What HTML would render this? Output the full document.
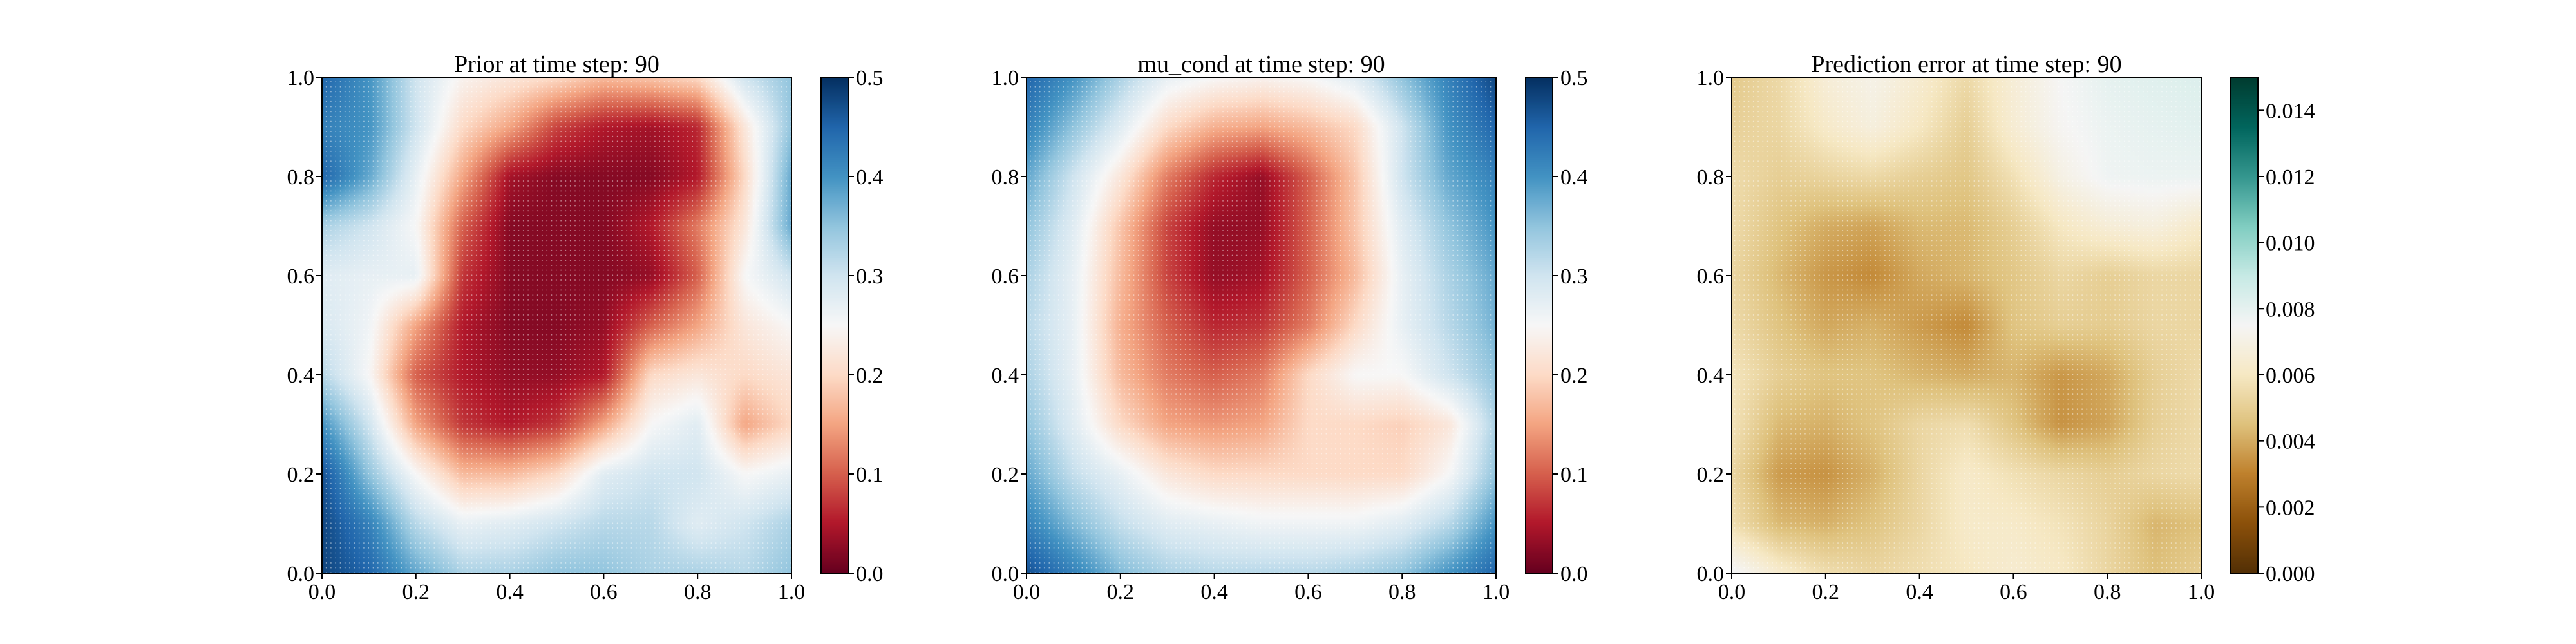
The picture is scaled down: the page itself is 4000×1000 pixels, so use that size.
<!DOCTYPE html>
<html><head><meta charset="utf-8">
<style>
html,body{margin:0;padding:0;background:#fff;}
#root{position:relative;width:4000px;height:1000px;overflow:hidden;font-family:"Liberation Serif",serif;}
canvas{position:absolute;image-rendering:auto;}
svg{position:absolute;left:0;top:0;}
</style></head>
<body>
<div id="root"></div>
<script>
// ---- data (11x11 grids, rows from y=1.0 down to y=0.0, cols x=0..1) ----
const xTicks = [0,0.2,0.4,0.6,0.8,1.0];
const yTicks = [0,0.2,0.4,0.6,0.8,1.0];
const titles = ["Prior at time step: 90","mu_cond at time step: 90","Prediction error at time step: 90"];
const cbTicks1 = [0,0.1,0.2,0.3,0.4,0.5];
const cbTicks3 = [0,0.002,0.004,0.006,0.008,0.010,0.012,0.014];
const priorGrid = [
[0.45,0.4,0.3,0.24,0.22,0.2,0.17,0.18,0.2,0.3,0.35],
[0.42,0.4,0.3,0.2,0.15,0.08,0.05,0.04,0.06,0.22,0.35],
[0.45,0.38,0.27,0.15,0.04,0.02,0.02,0.02,0.05,0.2,0.38],
[0.33,0.3,0.25,0.1,0.02,0.02,0.02,0.05,0.12,0.22,0.38],
[0.28,0.27,0.27,0.07,0.02,0.02,0.02,0.03,0.1,0.25,0.3],
[0.29,0.26,0.15,0.05,0.02,0.02,0.03,0.1,0.15,0.22,0.25],
[0.32,0.25,0.1,0.05,0.03,0.03,0.05,0.2,0.22,0.2,0.22],
[0.4,0.3,0.15,0.07,0.05,0.07,0.15,0.25,0.28,0.15,0.2],
[0.47,0.35,0.25,0.17,0.17,0.2,0.28,0.3,0.3,0.25,0.27],
[0.48,0.42,0.32,0.27,0.28,0.3,0.32,0.32,0.28,0.3,0.33],
[0.48,0.45,0.38,0.33,0.33,0.35,0.35,0.33,0.33,0.32,0.35]];
const muGrid = [
[0.45,0.4,0.33,0.27,0.25,0.24,0.25,0.28,0.35,0.42,0.48],
[0.42,0.35,0.28,0.2,0.16,0.15,0.17,0.2,0.3,0.4,0.45],
[0.38,0.3,0.22,0.12,0.06,0.03,0.1,0.18,0.3,0.38,0.42],
[0.35,0.28,0.18,0.08,0.03,0.03,0.1,0.18,0.28,0.35,0.4],
[0.33,0.27,0.17,0.08,0.03,0.04,0.1,0.17,0.27,0.33,0.38],
[0.32,0.27,0.16,0.1,0.06,0.07,0.12,0.2,0.27,0.32,0.37],
[0.33,0.27,0.17,0.12,0.1,0.12,0.2,0.25,0.25,0.3,0.35],
[0.35,0.28,0.2,0.15,0.14,0.15,0.2,0.2,0.19,0.22,0.33],
[0.38,0.31,0.27,0.22,0.2,0.2,0.2,0.2,0.2,0.25,0.35],
[0.42,0.36,0.31,0.28,0.27,0.26,0.26,0.26,0.28,0.32,0.4],
[0.47,0.42,0.36,0.33,0.32,0.32,0.32,0.33,0.35,0.4,0.45]];
const errGrid = [
[0.0048,0.0054,0.0066,0.0071,0.0064,0.0054,0.0066,0.0075,0.008,0.0082,0.0083],
[0.0051,0.0053,0.0062,0.0068,0.0060,0.0050,0.0065,0.0074,0.0078,0.008,0.0081],
[0.0055,0.0050,0.0052,0.0054,0.0050,0.0047,0.0057,0.0070,0.0077,0.0078,0.0078],
[0.0055,0.0046,0.0040,0.0038,0.0043,0.0043,0.0050,0.0060,0.0066,0.0068,0.0062],
[0.0053,0.0043,0.0035,0.0032,0.0039,0.0042,0.0047,0.0053,0.0050,0.0053,0.0053],
[0.0055,0.0046,0.0039,0.0041,0.0036,0.0032,0.0046,0.0050,0.0049,0.0053,0.0053],
[0.0059,0.0050,0.0046,0.0046,0.0042,0.0040,0.0042,0.0035,0.0039,0.0050,0.0055],
[0.0058,0.0043,0.0041,0.0046,0.0053,0.0056,0.0046,0.0034,0.0038,0.0050,0.0055],
[0.0053,0.0036,0.0034,0.0041,0.0053,0.0062,0.0057,0.0053,0.0050,0.0053,0.0055],
[0.0056,0.0043,0.0041,0.0046,0.0053,0.0062,0.0062,0.0058,0.0052,0.0042,0.0045],
[0.0077,0.0064,0.0056,0.0053,0.0056,0.0060,0.0064,0.0061,0.0053,0.0045,0.0050]];

const RdBu = ["#67001f","#b2182b","#d6604d","#f4a582","#fddbc7","#f7f7f7","#d1e5f0","#92c5de","#4393c3","#2166ac","#053061"];
const BrBG = ["#543005","#8c510a","#bf812d","#dfc27d","#f6e8c3","#f5f5f5","#c7eae5","#80cdc1","#35978f","#01665e","#003c30"];
function hex(h){return [parseInt(h.substr(1,2),16),parseInt(h.substr(3,2),16),parseInt(h.substr(5,2),16)];}
function cmap(stops,t){t=Math.max(0,Math.min(1,t));const n=stops.length-1;const f=t*n;const i=Math.min(n-1,Math.floor(f));const u=f-i;const a=hex(stops[i]),b=hex(stops[i+1]);return [a[0]+(b[0]-a[0])*u,a[1]+(b[1]-a[1])*u,a[2]+(b[2]-a[2])*u];}

const root=document.getElementById('root');
const NS="http://www.w3.org/2000/svg";
const svg=document.createElementNS(NS,'svg');
svg.setAttribute('width','4000');svg.setAttribute('height','1000');


const defs=document.createElementNS(NS,'defs');
defs.innerHTML='<pattern id="dots" width="7.29" height="7.7" patternUnits="userSpaceOnUse"><circle cx="3.6" cy="3.8" r="0.9" fill="#fff" fill-opacity="0.5"/></pattern>';
svg.appendChild(defs);

const TOP=120,H=770,W=729,CBOFF=775,CBW=42;
const lefts=[500,1594,2689];
const panels=[
 {grid:priorGrid,stops:RdBu,vmin:0,vmax:0.5,ticks:cbTicks1,fmt:v=>v.toFixed(1)},
 {grid:muGrid,stops:RdBu,vmin:0,vmax:0.5,ticks:cbTicks1,fmt:v=>v.toFixed(1)},
 {grid:errGrid,stops:BrBG,vmin:0,vmax:0.015,ticks:cbTicks3,fmt:v=>v.toFixed(3)}];

function txt(x,y,s,size,anchor,name){const t=document.createElementNS(NS,'text');t.setAttribute('x',x);t.setAttribute('y',y);t.setAttribute('font-size',size);t.setAttribute('text-anchor',anchor);t.setAttribute('font-family','"Liberation Serif", serif');t.setAttribute('fill','#000');t.textContent=s;


svg.appendChild(t);return t;}
function line(x1,y1,x2,y2,name){const l=document.createElementNS(NS,'line');l.setAttribute('x1',x1);l.setAttribute('y1',y1);l.setAttribute('x2',x2);l.setAttribute('y2',y2);l.setAttribute('stroke','#000');l.setAttribute('stroke-width','2');


svg.appendChild(l);}

panels.forEach((p,k)=>{
  const L=lefts[k];
  const xs=v=>L+v*W, ys=v=>TOP+H-v*H;
  const R=110;
  const cv=document.createElement('canvas');cv.width=R;cv.height=R;
  cv.style.left=L+'px';cv.style.top=TOP+'px';cv.style.width=W+'px';cv.style.height=H+'px';
  
  
  const ctx=cv.getContext('2d');const img=ctx.createImageData(R,R);
  const g=p.grid,n=g.length-1;
  for(let j=0;j<R;j++)for(let i=0;i<R;i++){
    const gx=(i+0.5)/R*n, gy=(j+0.5)/R*n;
    const i0=Math.min(n-1,Math.floor(gx)),j0=Math.min(n-1,Math.floor(gy));
    const u=gx-i0,w=gy-j0;
    const v=g[j0][i0]*(1-u)*(1-w)+g[j0][i0+1]*u*(1-w)+g[j0+1][i0]*(1-u)*w+g[j0+1][i0+1]*u*w;
    const c=cmap(p.stops,(v-p.vmin)/(p.vmax-p.vmin));
    const o=(j*R+i)*4;img.data[o]=c[0];img.data[o+1]=c[1];img.data[o+2]=c[2];img.data[o+3]=255;}
  ctx.putImageData(img,0,0);root.appendChild(cv);
  const cb=document.createElement('canvas');cb.width=1;cb.height=256;
  cb.style.left=(L+CBOFF)+'px';cb.style.top=TOP+'px';cb.style.width=CBW+'px';cb.style.height=H+'px';
  
  
  const c2=cb.getContext('2d');const im2=c2.createImageData(1,256);
  for(let j=0;j<256;j++){const c=cmap(p.stops,1-j/255);im2.data[j*4]=c[0];im2.data[j*4+1]=c[1];im2.data[j*4+2]=c[2];im2.data[j*4+3]=255;}
  c2.putImageData(im2,0,0);root.appendChild(cb);
  const r=document.createElementNS(NS,'rect');r.setAttribute('x',L);r.setAttribute('y',TOP);r.setAttribute('width',W);r.setAttribute('height',H);r.setAttribute('fill','url(#dots)');
  
  
  svg.appendChild(r);
  const f=document.createElementNS(NS,'rect');f.setAttribute('x',L);f.setAttribute('y',TOP);f.setAttribute('width',W);f.setAttribute('height',H);f.setAttribute('fill','none');f.setAttribute('stroke','#000');f.setAttribute('stroke-width','2');
  
  
  svg.appendChild(f);
  const fc=document.createElementNS(NS,'rect');fc.setAttribute('x',L+CBOFF);fc.setAttribute('y',TOP);fc.setAttribute('width',CBW);fc.setAttribute('height',H);fc.setAttribute('fill','none');fc.setAttribute('stroke','#000');fc.setAttribute('stroke-width','2');
  
  
  svg.appendChild(fc);
  xTicks.forEach(v=>{line(xs(v),TOP+H,xs(v),TOP+H+9,'x-tick');txt(xs(v),TOP+H+40,v.toFixed(1),34,'middle','x-tick-label');});
  yTicks.forEach(v=>{line(L-9,ys(v),L,ys(v),'y-tick');txt(L-12,ys(v)+12,v.toFixed(1),34,'end','y-tick-label');});
  p.ticks.forEach(v=>{const y=TOP+H-(v-p.vmin)/(p.vmax-p.vmin)*H;line(L+CBOFF+CBW,y,L+CBOFF+CBW+9,y,'colorbar-tick');txt(L+CBOFF+CBW+12,y+12,p.fmt(v),34,'start','colorbar-tick-label');});
  txt(L+W/2,TOP-8,titles[k],38,'middle','panel-title-'+(k+1));
});
root.appendChild(svg);
</script>
</body></html>
